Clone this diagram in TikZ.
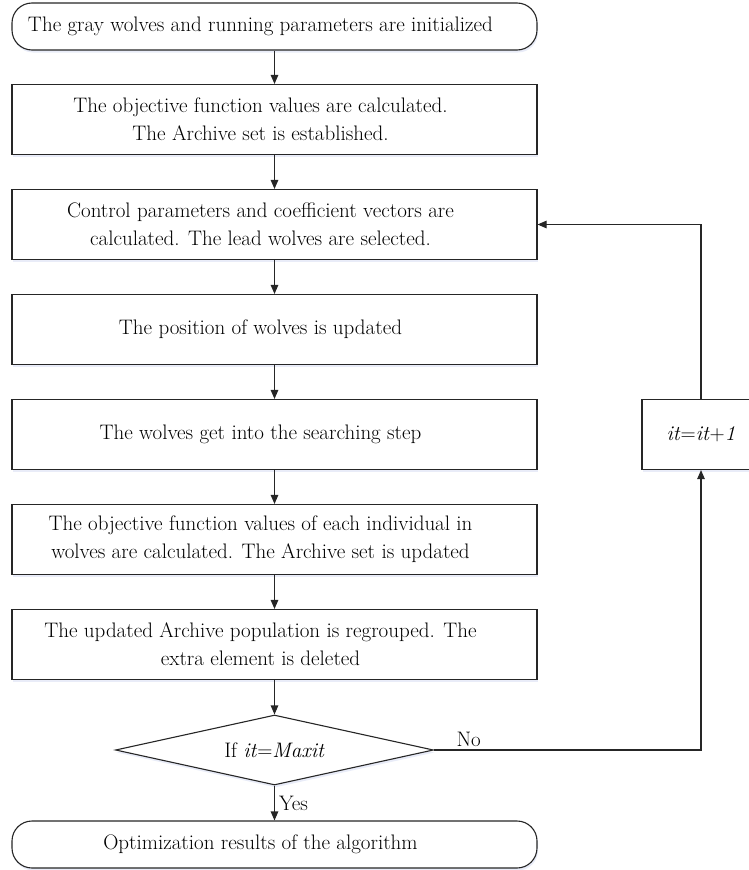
\documentclass[tikz,border=0pt]{standalone}
\usepackage{tikz}
\usetikzlibrary{arrows.meta,shapes.geometric,shadows}
\newcommand{\txtleft}{\hspace*{-28pt}}% text sits a little left of the box centre
\tikzset{
  flowline/.style={draw=black!85, line width=1.1pt},
  arrowline/.style={flowline, -{Triangle[length=9pt,width=7.5pt]}},
  softshadow/.style={drop shadow={shadow xshift=1pt, shadow yshift=-2.5pt, fill=cyan!40!blue!25, opacity=0.35}},
  procbox/.style={flowline, fill=white, softshadow, rectangle, minimum width=525pt, minimum height=70pt, align=center, inner sep=0pt},
  termbox/.style={procbox, rounded corners=20pt, minimum height=47pt},
  decbox/.style={flowline, fill=white, softshadow, diamond, minimum width=318pt, minimum height=70pt, inner sep=0pt, aspect=4.5},
  itbox/.style={procbox, minimum width=118pt}
}
\begin{document}
\begin{tikzpicture}[x=1pt, y=1pt, font=\fontsize{21}{28}\selectfont]
  \useasboundingbox (0,0) rectangle (749,-870);
  \node[termbox] (start) at (274.5,-26.5) {\txtleft The gray wolves and running parameters are initialized};
  \node[procbox] (calc) at (274.5,-119.5) {\txtleft The objective function values are calculated.\\ \txtleft The Archive set is established.};
  \node[procbox] (ctrl) at (274.5,-224.5) {\txtleft Control parameters and coefficient vectors are\\ \txtleft calculated. The lead wolves are selected.};
  \node[procbox] (pos) at (274.5,-329.5) {\txtleft The position of wolves is updated};
  \node[procbox] (search) at (274.5,-434.5) {\txtleft The wolves get into the searching step};
  \node[procbox] (eval) at (274.5,-539.5) {\txtleft The objective function values of each individual in\\ \txtleft wolves are calculated. The Archive set is updated};
  \node[procbox] (regroup) at (274.5,-644.5) {\txtleft The updated Archive population is regrouped. The\\ \txtleft extra element is deleted};
  \node[decbox] (check) at (274.5,-750) {If \textit{it}=\textit{Maxit}};
  \node[termbox] (result) at (274.5,-844.5) {\txtleft Optimization results of the algorithm};
  \node[itbox] (incr) at (701,-434.5) {\textit{it}=\textit{it}+\textit{1}};
  % main chain
  \foreach \a/\b in {start/calc, calc/ctrl, ctrl/pos, pos/search, search/eval, eval/regroup, regroup/check}
    \draw[arrowline] (\a) -- (\b);
  \draw[arrowline] (check) -- node[right, inner sep=4pt] {Yes} (result);
  % loop back
  \draw[arrowline] (check.east) -| node[pos=0.065, above, inner sep=3pt] {No} (incr.south);
  \draw[arrowline] (incr.north) |- (ctrl.east);
\end{tikzpicture}
\end{document}
